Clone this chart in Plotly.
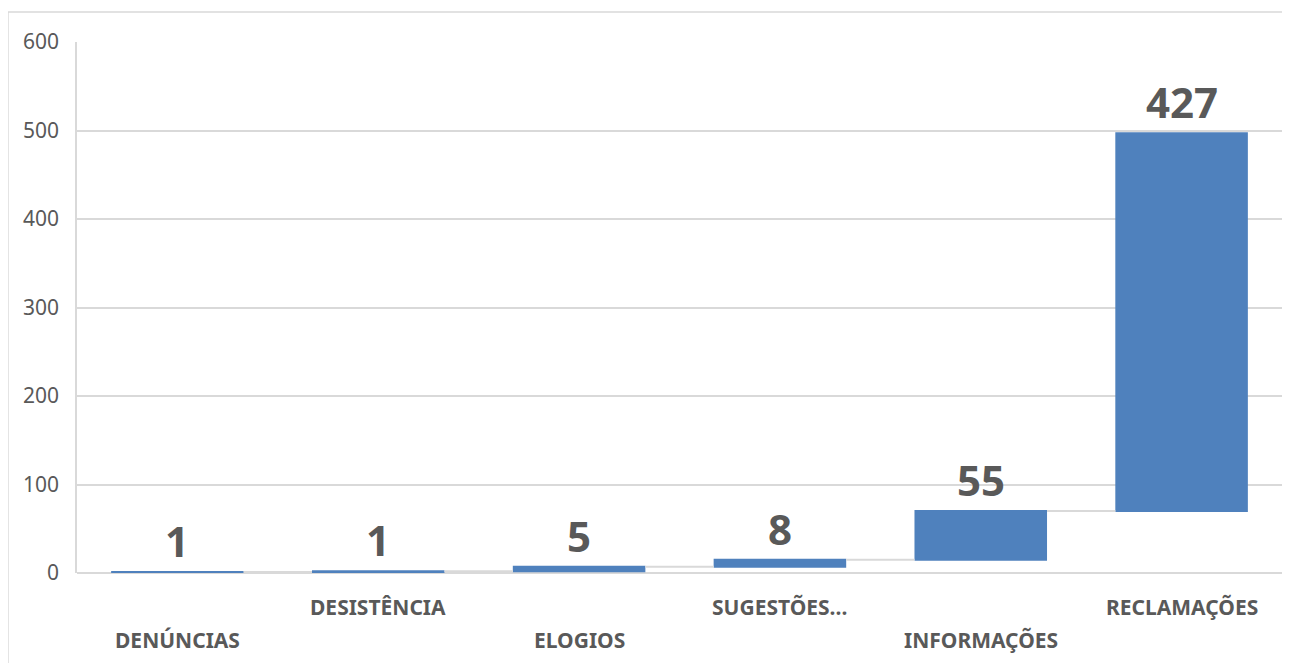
import numpy as np
import plotly.graph_objects as go

categories = ["DENÚNCIAS", "DESISTÊNCIA", "ELOGIOS", "SUGESTÕES...", "INFORMAÇÕES", "RECLAMAÇÕES"]
values = [1, 1, 5, 8, 55, 427]
y_ticks = [0, 100, 200, 300, 400, 500, 600]

BLUE = "#4F81BD"
GRID = "#D9D9D9"
TXT = "#595959"

cum = np.cumsum(values)

fig = go.Figure()
fig.add_trace(go.Waterfall(
    x=categories,
    y=values,
    measure=["relative"] * len(values),
    increasing=dict(marker=dict(color=BLUE, line=dict(color=BLUE, width=0))),
    decreasing=dict(marker=dict(color=BLUE)),
    totals=dict(marker=dict(color=BLUE)),
    connector=dict(line=dict(color=GRID, width=2)),
    showlegend=False,
    hoverinfo="skip",
))

annotations = []
for c, v, top in zip(categories, values, cum):
    annotations.append(dict(
        x=c, y=float(top), xref="x", yref="y", text=f"<b>{v}</b>",
        showarrow=False, yanchor="bottom", yshift=1,
        font=dict(family="Noto Sans", size=42, color=TXT),
    ))
for i, c in enumerate(categories):
    row = 1 if i % 2 == 1 else 2
    annotations.append(dict(
        x=c, y=0, xref="x", yref="paper", text=f"<b>{c}</b>",
        showarrow=False, yanchor="middle", yshift=-34 if row == 1 else -67,
        font=dict(family="Noto Sans", size=21, color=TXT),
    ))

fig.update_layout(
    width=1282, height=655,
    margin=dict(l=69, r=8, t=34, b=90),
    paper_bgcolor="white", plot_bgcolor="white",
    waterfallgap=0.34,
    annotations=annotations,
    shapes=[dict(type="rect", xref="paper", yref="paper",
                 x0=-0.0573, x1=1.02, y0=-0.25, y1=1.0565,
                 line=dict(color=GRID, width=1.5), layer="below")],
    xaxis=dict(showticklabels=False, showgrid=False, zeroline=False,
               showline=False, ticks=""),
    yaxis=dict(range=[0, 600], tickvals=y_ticks, showgrid=True, gridcolor=GRID,
               gridwidth=1.5, zeroline=True, zerolinecolor=GRID, zerolinewidth=1.5,
               showline=True, linecolor=GRID, linewidth=1.5,
               ticks="", ticklabelstandoff=12,
               tickfont=dict(family="Noto Sans", size=21, color=TXT)),
)

fig.write_html("out.html")
